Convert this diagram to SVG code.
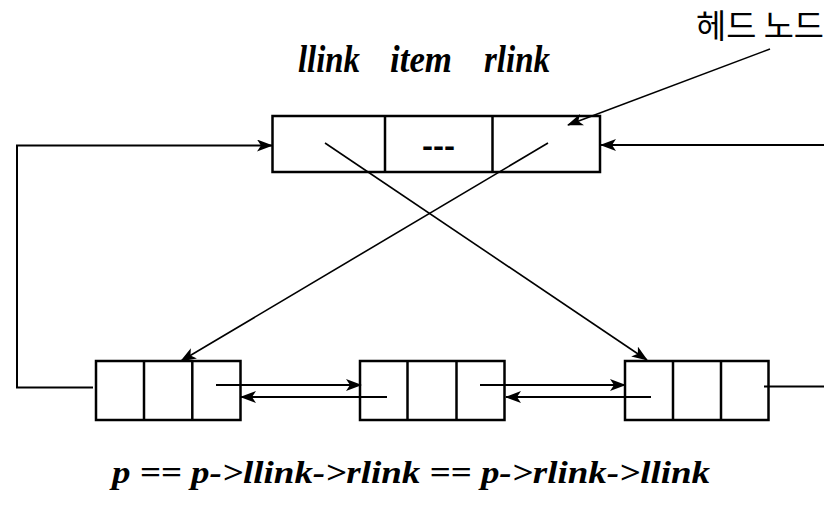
<svg xmlns="http://www.w3.org/2000/svg" width="824" height="511" viewBox="0 0 824 511">
  <defs>
    <marker id="arrow" markerUnits="userSpaceOnUse" markerWidth="16" markerHeight="12" refX="15" refY="6" orient="auto" viewBox="0 0 16 12">
      <path d="M0,0 L16,6 L0,12 L4,6 z" fill="#000"/>
    </marker>
    <style>
      .box { fill: #fff; stroke: #000; stroke-width: 2.5; }
      .div { stroke: #000; stroke-width: 2.5; }
      .link { fill: none; stroke: #000; stroke-width: 2; }
      .thin { fill: none; stroke: #000; stroke-width: 1.6; }
      .label { font-family: "Liberation Serif", "Times New Roman", serif; font-style: italic; font-weight: bold; fill: #000; }
      .ko { font-family: "Noto Sans CJK KR", "Noto Sans", sans-serif; fill: #000; }
    </style>
  </defs>
  <rect width="824" height="511" fill="#fff"/>

  <!-- field names above the head node -->
  <g id="field-labels" class="label" font-size="38">
    <text x="298" y="72" textLength="62" lengthAdjust="spacingAndGlyphs">llink</text>
    <text x="390" y="72" textLength="62" lengthAdjust="spacingAndGlyphs">item</text>
    <text x="484" y="72" textLength="66" lengthAdjust="spacingAndGlyphs">rlink</text>
  </g>

  <!-- head node caption -->
  <g id="head-caption">
    <text class="ko" x="696" y="37.5" font-size="33" textLength="128" lengthAdjust="spacingAndGlyphs">헤드 노드</text>
  </g>

  <!-- head node -->
  <g id="head-node">
    <rect class="box" x="272.5" y="116" width="327.5" height="56"/>
    <line class="div" x1="385" y1="116" x2="385" y2="172"/>
    <line class="div" x1="492.5" y1="116" x2="492.5" y2="172"/>
    <text x="438.5" y="156" font-family="Liberation Sans, Arial, sans-serif" font-size="30" font-weight="bold" text-anchor="middle" textLength="33" lengthAdjust="spacingAndGlyphs">---</text>
  </g>

  <!-- list nodes -->
  <g id="node1">
    <rect class="box" x="96" y="361" width="144.5" height="59"/>
    <line class="div" x1="144" y1="361" x2="144" y2="420"/>
    <line class="div" x1="192.3" y1="361" x2="192.3" y2="420"/>
  </g>
  <g id="node2">
    <rect class="box" x="360" y="361" width="144.5" height="59"/>
    <line class="div" x1="407.5" y1="361" x2="407.5" y2="420"/>
    <line class="div" x1="456.5" y1="361" x2="456.5" y2="420"/>
  </g>
  <g id="node3">
    <rect class="box" x="625" y="361" width="143.5" height="59"/>
    <line class="div" x1="673" y1="361" x2="673" y2="420"/>
    <line class="div" x1="721" y1="361" x2="721" y2="420"/>
  </g>

  <!-- connectors -->
  <g id="connectors">
    <line class="thin" x1="770" y1="49" x2="568" y2="125" marker-end="url(#arrow)"/>
    <line class="thin" x1="325" y1="143" x2="647" y2="360" marker-end="url(#arrow)"/>
    <line class="thin" x1="548" y1="143" x2="181" y2="361" marker-end="url(#arrow)"/>
    <polyline class="link" points="93,387.5 17,387.5 17,145.5 272,145.5" marker-end="url(#arrow)"/>
    <line class="link" x1="824" y1="145" x2="601" y2="145" marker-end="url(#arrow)"/>
    <line class="link" x1="764" y1="386.5" x2="824" y2="386.5"/>
    <line class="link" x1="216" y1="385" x2="361" y2="385" marker-end="url(#arrow)"/>
    <line class="link" x1="387" y1="397" x2="241" y2="397" marker-end="url(#arrow)"/>
    <line class="link" x1="480" y1="385" x2="625" y2="385" marker-end="url(#arrow)"/>
    <line class="link" x1="651" y1="397" x2="506" y2="397" marker-end="url(#arrow)"/>
  </g>

  <!-- invariant -->
  <g id="formula">
    <text class="label" x="112" y="482.5" font-size="32" textLength="598" lengthAdjust="spacingAndGlyphs">p == p-&gt;llink-&gt;rlink == p-&gt;rlink-&gt;llink</text>
  </g>
</svg>
